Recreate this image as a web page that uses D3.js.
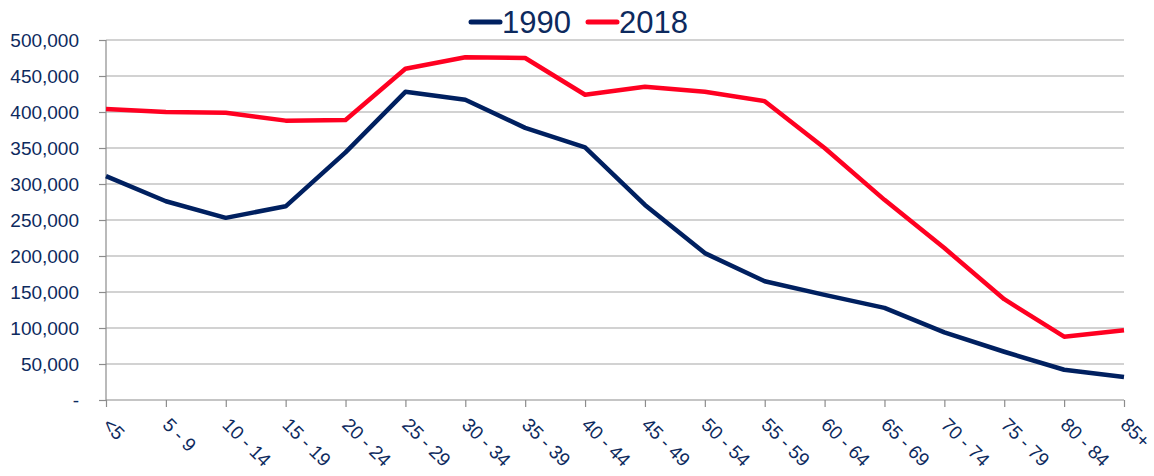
<html lang="en">
<head>
  <meta charset="UTF-8">
  <title>Population by age group</title>
  <style>
    body { margin: 0; background: #fff; }
    text { font-family: "Liberation Sans", Arial, sans-serif; fill: #0d2a5e; }
  </style>
</head>
<body>
  <div class="svg-target"></div>
  <script src="https://d3js.org/d3.v7.min.js"></script>
  <script>
    const ageGroups = ["<5", "5 - 9", "10 - 14", "15 - 19", "20 - 24", "25 - 29", "30 - 34", "35 - 39", "40 - 44",
      "45 - 49", "50 - 54", "55 - 59", "60 - 64", "65 - 69", "70 - 74", "75 - 79", "80 - 84", "85+"];
    const pop1990 = [311000, 276000, 253000, 269000, 344000, 428000, 417000, 378000, 351000,
      271000, 204000, 165000, 146000, 128000, 94000, 67000, 42000, 32000];
    const pop2018 = [404000, 400000, 399000, 388000, 389000, 460000, 476000, 475000, 424000,
      435000, 428000, 415000, 350000, 278000, 211000, 140000, 88000, 97000];
    const yTicks = [0, 50000, 100000, 150000, 200000, 250000, 300000, 350000, 400000, 450000, 500000];

    const w = 1154;
    const h = 476;
    const margin = { left: 106, right: 30, top: 40, bottom: 76 };

    const svg = d3.select("div.svg-target")
      .append("svg")
      .attr("width", w)
      .attr("height", h);

    const xScale = d3.scalePoint()
      .domain(ageGroups)
      .range([margin.left, w - margin.right]);

    const yScale = d3.scaleLinear()
      .domain([0, 500000])
      .range([h - margin.bottom, margin.top]);

    // gridlines
    svg.append("g")
      .selectAll("line")
      .data(yTicks.slice(1))
      .enter()
      .append("line")
      .attr("x1", margin.left)
      .attr("x2", w - margin.right)
      .attr("y1", (d) => yScale(d))
      .attr("y2", (d) => yScale(d))
      .attr("stroke", "#a6a6a6")
      .attr("stroke-width", 1.2);

    // y axis
    const yAxis = d3.axisLeft(yScale)
      .tickValues(yTicks)
      .tickSize(7)
      .tickPadding(20)
      .tickFormat((d) => d === 0 ? "-" : d3.format(",")(d));
    const yG = svg.append("g")
      .attr("transform", "translate(" + margin.left + ",0)")
      .call(yAxis);
    yG.selectAll("path, line").attr("stroke", "#8c8c8c").attr("stroke-width", 1.2);
    yG.select(".domain").attr("d", "M0," + yScale(500000) + "V" + yScale(0));
    yG.selectAll("text")
      .style("font-family", "Liberation Sans, Arial, sans-serif")
      .style("font-size", "19px")
      .attr("fill", "#0d2a5e");

    // x axis
    const xAxis = d3.axisBottom(xScale).tickSize(7).tickSizeOuter(0);
    const xG = svg.append("g")
      .attr("transform", "translate(0," + yScale(0) + ")")
      .call(xAxis);
    xG.selectAll("path, line").attr("stroke", "#8c8c8c").attr("stroke-width", 1.2);
    xG.select(".domain").attr("d", "M" + margin.left + ",0H" + (w - margin.right));
    xG.selectAll("text")
      .style("font-family", "Liberation Sans, Arial, sans-serif")
      .style("font-size", "19px")
      .attr("fill", "#0d2a5e")
      .attr("text-anchor", "start")
      .attr("dy", "0")
      .attr("y", 0)
      .attr("transform", "translate(-5,26) rotate(45)");

    // lines
    const series = [
      { name: "1990", values: pop1990, color: "#002060" },
      { name: "2018", values: pop2018, color: "#ff0021" }
    ];
    const line = d3.line()
      .x((d, i) => xScale(ageGroups[i]))
      .y((d) => yScale(d));

    svg.selectAll("path.series")
      .data(series)
      .enter()
      .append("path")
      .attr("class", "series")
      .attr("d", (d) => line(d.values))
      .attr("fill", "none")
      .attr("stroke", (d) => d.color)
      .attr("stroke-width", 4.5)
      .attr("stroke-linejoin", "round");

    // legend
    const legend = svg.append("g");
    const legendX = [471, 588];
    series.forEach((s, i) => {
      legend.append("line")
        .attr("x1", legendX[i])
        .attr("x2", legendX[i] + 29)
        .attr("y1", 22)
        .attr("y2", 22)
        .attr("stroke", s.color)
        .attr("stroke-width", 5)
        .attr("stroke-linecap", "round");
      legend.append("text")
        .attr("x", legendX[i] + 31)
        .attr("y", 33)
        .style("font-size", "31px")
        .text(s.name);
    });
  </script>
</body>
</html>
